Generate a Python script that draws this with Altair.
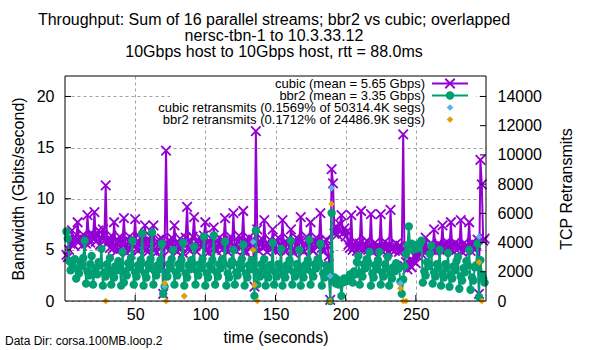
import altair as alt
import pandas as pd

# ---------------- data ----------------
t_first = 1
cubic = [
    4.5, 4.3, 5.0, 5.6, 6.9, 5.5, 6.3, 5.9, 7.7, 5.8,
    6.2, 5.4, 6.5, 6.0, 5.6, 8.4, 6.1, 5.7, 6.6, 6.3,
    8.7, 5.8, 6.4, 6.9, 5.5, 6.2, 7.0, 5.9, 11.3, 5.6,
    6.0, 5.2, 6.4, 5.1, 7.7, 5.4, 4.9, 5.9, 6.3, 5.2,
    5.8, 8.1, 5.3, 4.7, 5.8, 6.3, 5.0, 5.6, 6.0, 8.0,
    5.1, 4.9, 5.7, 6.2, 5.2, 5.8, 7.4, 5.0, 4.8, 5.9,
    6.3, 5.2, 7.4, 5.0, 4.7, 5.8, 6.0, 5.3, 6.1, 0.7,
    5.6, 14.7, 5.4, 4.9, 5.8, 6.2, 5.3, 7.4, 5.0, 4.8,
    5.7, 6.1, 5.2, 4.7, 5.6, 6.2, 9.2, 5.1, 4.9, 5.8,
    6.3, 8.2, 5.4, 4.8, 5.9, 6.2, 5.3, 5.7, 6.4, 7.7,
    5.0, 4.7, 5.8, 6.1, 5.4, 7.2, 5.2, 4.9, 5.6, 6.2,
    5.5, 5.0, 5.9, 8.1, 5.3, 4.8, 5.7, 6.3, 5.1, 8.6,
    5.4, 4.9, 5.8, 6.4, 5.2, 5.6, 8.8, 5.0, 4.7, 5.9,
    6.2, 5.3, 5.8, 6.0, 1.4, 16.6, 7.0, 4.9, 5.7, 6.1,
    5.2, 7.9, 5.4, 4.8, 5.6, 6.0, 5.1, 7.0, 5.3, 4.9,
    5.8, 6.2, 5.0, 5.5, 7.9, 5.2, 4.8, 5.7, 6.1, 5.3,
    7.0, 5.0, 4.7, 5.8, 6.2, 5.4, 5.9, 8.2, 5.1, 4.8,
    5.6, 6.3, 5.2, 5.7, 7.7, 5.0, 4.9, 5.8, 6.2, 5.3,
    5.9, 8.6, 5.2, 4.8, 5.7, 6.0, 5.4, 4.4, 0.1, 12.9,
    11.5, 6.6, 7.3, 6.5, 6.9, 7.5, 8.4, 6.6, 7.1, 6.3,
    6.8, 5.5, 5.2, 8.4, 5.0, 5.3, 5.8, 4.9, 5.2, 5.6,
    8.8, 5.1, 4.9, 5.5, 5.9, 5.0, 5.3, 8.5, 4.8, 5.2,
    5.7, 5.0, 5.4, 5.1, 8.5, 4.9, 5.2, 5.8, 5.1, 4.8,
    5.5, 8.9, 5.0, 5.3, 4.9, 5.6, 5.2, 4.8, 5.4, 5.0,
    16.3, 3.4, 3.8, 3.1, 3.6, 4.0, 3.3, 3.9, 4.4, 3.7,
    4.8, 4.3, 5.2, 4.6, 5.4, 5.0, 6.2, 4.9, 5.3, 5.0,
    5.6, 5.2, 7.0, 4.8, 5.3, 5.6, 5.0, 5.4, 7.4, 4.9,
    5.5, 5.8, 5.1, 5.3, 7.7, 4.9, 5.4, 5.7, 5.0, 5.5,
    5.2, 7.9, 4.8, 5.6, 5.3, 5.0, 5.4, 7.7, 4.9, 5.7,
    5.2, 5.0, 5.5, 6.0, 0.7, 13.8, 11.4, 5.9, 6.1,
]
bbr2 = [
    6.8, 6.1, 3.9, 3.0, 3.6, 3.3, 4.1, 2.2, 3.1, 2.7,
    3.8, 3.4, 4.2, 5.9, 1.7, 2.9, 2.5, 3.6, 4.4, 1.6,
    2.7, 3.2, 2.6, 3.8, 3.5, 5.1, 1.5, 2.8, 2.4, 3.6,
    3.1, 4.2, 1.6, 2.7, 2.3, 3.4, 3.0, 3.9, 3.5, 1.5,
    4.8, 1.8, 2.9, 2.5, 3.7, 3.3, 4.2, 5.9, 1.6, 2.8,
    2.4, 3.5, 3.1, 4.0, 6.6, 1.5, 2.7, 2.3, 3.6, 3.2,
    4.1, 6.7, 1.6, 2.9, 2.5, 3.5, 3.1, 4.0, 5.6, 0.7,
    1.4, 2.8, 2.4, 3.6, 3.2, 4.1, 5.0, 1.6, 2.8, 2.5,
    3.6, 3.2, 4.0, 5.7, 1.5, 2.7, 2.3, 3.5, 3.1, 4.0,
    3.6, 5.3, 1.6, 2.9, 2.5, 3.6, 3.2, 4.1, 6.3, 1.5,
    2.7, 2.3, 3.5, 3.1, 4.0, 6.4, 1.6, 2.8, 2.4, 3.6,
    3.2, 4.1, 3.7, 5.8, 1.5, 2.7, 2.3, 3.5, 3.9, 5.0,
    1.6, 2.8, 2.5, 3.6, 3.2, 4.1, 5.5, 1.5, 2.7, 2.3,
    3.5, 3.1, 4.0, 3.7, 0.5, 6.9, 1.6, 2.8, 2.4, 3.6,
    3.2, 4.1, 1.5, 2.7, 2.3, 3.5, 3.1, 5.7, 1.6, 2.8,
    2.4, 3.6, 3.2, 5.1, 1.5, 2.7, 2.3, 3.5, 3.1, 4.0,
    5.9, 1.6, 2.8, 2.4, 3.6, 3.2, 5.0, 1.5, 2.7, 2.3,
    3.5, 3.1, 4.0, 6.0, 1.6, 2.8, 2.4, 3.6, 3.2, 4.1,
    3.8, 5.6, 1.5, 2.7, 2.3, 3.5, 3.1, 2.8, 0.0, 8.6,
    1.9, 2.3, 1.7, 2.1, 1.6, 1.9, 0.5, 1.8, 2.2, 1.9,
    2.1, 2.0, 2.6, 2.3, 1.8, 2.9, 2.6, 3.8, 4.4, 1.6,
    2.8, 2.4, 3.6, 3.2, 4.1, 3.8, 4.8, 1.5, 2.7, 2.3,
    3.5, 3.1, 4.0, 4.8, 1.6, 2.8, 2.4, 3.6, 3.2, 4.3,
    1.5, 2.6, 2.2, 3.3, 2.9, 3.7, 3.4, 3.2, 1.9, 0.7,
    2.1, 3.4, 4.6, 5.4, 7.3, 5.2, 5.6, 5.0, 5.4, 5.1,
    5.5, 5.2, 5.6, 5.9, 1.8, 2.9, 2.5, 3.8, 3.4, 4.6,
    5.4, 1.7, 2.8, 2.4, 3.6, 3.2, 5.0, 1.5, 2.7, 2.3,
    3.6, 3.2, 4.7, 1.4, 2.6, 2.2, 3.4, 3.0, 3.9, 4.3,
    1.2, 2.4, 2.0, 3.2, 2.8, 3.9, 3.5, 5.0, 1.1, 2.3,
    2.0, 3.3, 3.5, 5.6, 0.4, 4.0, 2.6, 2.2, 1.8,
]
cubic_rt_t = [71, 85, 134, 135, 189, 190, 239, 295]
cubic_rt_v = [1000, 340, 4040, 1100, 1710, 7730, 1210, 4400]
bbr2_rt_t = [29, 71, 72, 85, 134, 135, 137, 189, 190, 239, 241, 243, 295, 297]
bbr2_rt_v = [0, 1230, 0, 340, 3490, 1100, 0, 0, 6640, 870, 0, 0, 2650, 0]

x_ticks = [50, 100, 150, 200, 250]
y_ticks = [0, 5, 10, 15, 20]
y2_ticks = [0, 2000, 4000, 6000, 8000, 10000, 12000, 14000]

title_lines = [
    "Throughput: Sum of 16 parallel streams; bbr2 vs cubic; overlapped",
    "nersc-tbn-1 to 10.3.33.12",
    "10Gbps host to 10Gbps host, rtt = 88.0ms",
]
legend_labels = [
    "cubic (mean = 5.65 Gbps)",
    "bbr2 (mean = 3.35 Gbps)",
    "cubic retransmits (0.1569% of 50314.4K segs)",
    "bbr2 retransmits (0.1712% of 24486.9K segs)",
]
footer = "Data Dir: corsa.100MB.loop.2"

# ---------------- styling ----------------
FONT = "Liberation Sans"
W, H = 421, 225
PURPLE = "#9400d3"
GREEN = "#009e73"
BLUE = "#56b4e9"
ORANGE = "#e69f00"
XSHAPE = "M-1,-1L1,1M-1,1L1,-1"
XSIZE = 90
DOTSIZE = 70

df_c = pd.DataFrame({"t": list(range(t_first, t_first + len(cubic))), "v": cubic})
df_b = pd.DataFrame({"t": list(range(t_first, t_first + len(bbr2))), "v": bbr2})
df_crt = pd.DataFrame({"t": cubic_rt_t, "r": cubic_rt_v})
df_brt = pd.DataFrame({"t": bbr2_rt_t, "r": bbr2_rt_v})
df_xt = pd.DataFrame({"t": x_ticks})
df_yt = pd.DataFrame({"v": y_ticks[1:]})
df_y2t = pd.DataFrame({"r": y2_ticks[1:]})
one = pd.DataFrame({"k": [0]})

xs = alt.Scale(domain=[0, 300], nice=False, zero=False)
ys = alt.Scale(domain=[0, 22], nice=False)
y2s = alt.Scale(domain=[0, 15400], nice=False)

x_axis = alt.Axis(
    values=x_ticks, title="time (seconds)", grid=True, gridDash=[3, 3],
    gridColor="#a0a0a0", domain=False, ticks=False,
    labelFont=FONT, labelFontSize=16, labelColor="black", labelPadding=13,
    labelBaseline="middle",
    titleFont=FONT, titleFontSize=16, titleFontWeight="normal", titleColor="black",
    titleX=W / 2, titleY=36, titleBaseline="middle", titleAlign="center",
)
y_axis = alt.Axis(
    values=y_ticks, title="Bandwidth (Gbits/second)", grid=True, gridDash=[3, 3],
    gridColor="#a0a0a0", domain=False, ticks=False,
    labelFont=FONT, labelFontSize=16, labelColor="black", labelPadding=11,
    titleFont=FONT, titleFontSize=16, titleFontWeight="normal", titleColor="black",
    titleX=-47, titleY=H / 2, titleAngle=270, titleAlign="center", titleBaseline="middle",
)
y2_axis = alt.Axis(
    orient="right", values=y2_ticks, title="TCP Retransmits", grid=False,
    domain=False, ticks=False, format="d",
    labelFont=FONT, labelFontSize=16, labelColor="black", labelPadding=11,
    titleFont=FONT, titleFontSize=16, titleFontWeight="normal", titleColor="black",
    titleX=80, titleY=H / 2, titleAngle=270, titleAlign="center", titleBaseline="middle",
)

X = alt.X("t:Q", scale=xs, axis=x_axis)
Y = alt.Y("v:Q", scale=ys, axis=y_axis)
Y2 = alt.Y("r:Q", scale=y2s, axis=y2_axis)

# frame + legend background (opaque key box)
frame = alt.Chart(one).mark_rect(fill=None, stroke="black", strokeWidth=1).encode(
    x=alt.value(0), x2=alt.value(W), y=alt.value(0), y2=alt.value(H)
)
legend_bg = alt.Chart(one).mark_rect(color="white").encode(
    x=alt.value(105), x2=alt.value(411), y=alt.value(0.5), y2=alt.value(50)
)

cubic_line = alt.Chart(df_c).mark_line(color=PURPLE, strokeWidth=2).encode(x=X, y=Y)
cubic_pts = alt.Chart(df_c).mark_point(
    shape=XSHAPE, filled=False, color=PURPLE, size=XSIZE, strokeWidth=1.8, opacity=1
).encode(x=X, y=Y)
bbr2_line = alt.Chart(df_b).mark_line(color=GREEN, strokeWidth=2).encode(x=X, y=Y)
bbr2_pts = alt.Chart(df_b).mark_circle(color=GREEN, size=DOTSIZE, opacity=1).encode(x=X, y=Y)
xtick_marks = alt.Chart(df_xt).mark_rule(color="black").encode(
    x=X, y=alt.value(H), y2=alt.value(H - 6)
)
ytick_marks = alt.Chart(df_yt).mark_rule(color="black").encode(
    y=Y, x=alt.value(0), x2=alt.value(6)
)

layer_a = alt.layer(legend_bg, cubic_line, cubic_pts, bbr2_line, bbr2_pts,
                    xtick_marks, ytick_marks)

crt = alt.Chart(df_crt).mark_point(shape="diamond", filled=True, color=BLUE,
                                   size=45, opacity=1).encode(x=X, y=Y2)
brt = alt.Chart(df_brt).mark_point(shape="diamond", filled=True, color=ORANGE,
                                   size=45, opacity=1).encode(x=X, y=Y2)
y2tick_marks = alt.Chart(df_y2t).mark_rule(color="black").encode(
    y=Y2, x=alt.value(W), x2=alt.value(W - 6)
)
layer_b = alt.layer(crt, brt, y2tick_marks)

# legend entries
leg_y = [7.5, 19.5, 31.5, 43.5]
legend_parts = []
for lbl, yy in zip(legend_labels, leg_y):
    legend_parts.append(
        alt.Chart(one).mark_text(font=FONT, fontSize=13, align="right",
                                 baseline="middle", color="black").encode(
            x=alt.value(360), y=alt.value(yy), text=alt.value(lbl))
    )
legend_parts.append(alt.Chart(one).mark_rule(color=PURPLE, strokeWidth=2).encode(
    x=alt.value(367), x2=alt.value(403), y=alt.value(leg_y[0])))
legend_parts.append(alt.Chart(one).mark_point(shape=XSHAPE, filled=False, color=PURPLE,
                                              size=XSIZE, strokeWidth=1.8, opacity=1).encode(
    x=alt.value(385), y=alt.value(leg_y[0])))
legend_parts.append(alt.Chart(one).mark_rule(color=GREEN, strokeWidth=2).encode(
    x=alt.value(367), x2=alt.value(403), y=alt.value(leg_y[1])))
legend_parts.append(alt.Chart(one).mark_circle(color=GREEN, size=DOTSIZE, opacity=1).encode(
    x=alt.value(385), y=alt.value(leg_y[1])))
legend_parts.append(alt.Chart(one).mark_point(shape="diamond", filled=True, color=BLUE,
                                              size=45, opacity=1).encode(
    x=alt.value(385), y=alt.value(leg_y[2])))
legend_parts.append(alt.Chart(one).mark_point(shape="diamond", filled=True, color=ORANGE,
                                              size=45, opacity=1).encode(
    x=alt.value(385), y=alt.value(leg_y[3])))

# title lines and footer
title_parts = []
for line, yy in zip(title_lines, [-56, -40, -24]):
    title_parts.append(
        alt.Chart(one).mark_text(font=FONT, fontSize=16, align="center",
                                 baseline="middle", color="black").encode(
            x=alt.value(209), y=alt.value(yy), text=alt.value(line))
    )
title_parts.append(
    alt.Chart(one).mark_text(font=FONT, fontSize=12, align="left",
                             baseline="middle", color="black").encode(
        x=alt.value(-60), y=alt.value(265), text=alt.value(footer))
)

layer_c = alt.layer(frame, *legend_parts, *title_parts)

chart = alt.layer(layer_a, layer_b, layer_c).resolve_scale(
    y="independent"
).properties(
    width=W, height=H,
    autosize=alt.AutoSizeParams(type="none"),
    padding={"left": 65, "top": 76, "right": 114, "bottom": 49},
    background="white",
).configure_view(stroke=None)

chart.save("out.html", embed_options={"renderer": "svg", "actions": False})
